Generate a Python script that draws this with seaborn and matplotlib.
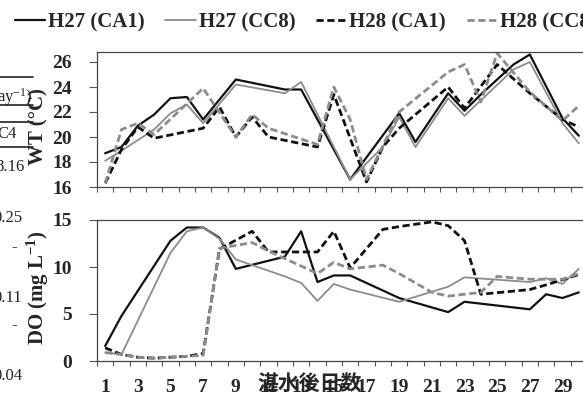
import pandas as pd
import seaborn as sns
import matplotlib.pyplot as plt
from matplotlib.lines import Line2D

# water temperature (WT, deg C) - day after flooding / value
wt_h27_ca1_days = [1, 2, 3, 4, 5, 6, 7, 9, 12, 13, 16, 19, 20, 22, 23, 24, 26, 27, 29, 30]
wt_h27_ca1 = [18.7, 19.2, 20.9, 21.8, 23.1, 23.2, 21.4, 24.6, 23.8, 23.8, 16.6, 21.9, 19.6, 23.5, 22.1, 23.4, 25.8, 26.6, 21.5, 20.1]
wt_h27_cc8_days = [1, 2, 4, 5, 6, 7, 9, 12, 13, 16, 18, 19, 20, 22, 23, 26, 27, 29, 30]
wt_h27_cc8 = [18.1, 18.9, 20.6, 21.9, 22.6, 21.1, 24.2, 23.5, 24.4, 16.6, 19.2, 21.6, 19.2, 23.1, 21.7, 25.4, 26.0, 21.1, 19.5]
wt_h28_ca1_days = [1, 2, 3, 4, 7, 8, 9, 10, 11, 14, 15, 17, 18, 19, 22, 23, 25, 27, 29, 30]
wt_h28_ca1 = [16.3, 19.0, 20.8, 19.9, 20.7, 22.4, 20.0, 21.6, 20.0, 19.2, 23.4, 16.4, 19.2, 20.7, 24.0, 22.3, 25.8, 23.5, 21.4, 20.8]
wt_h28_cc8_days = [1, 2, 3, 4, 7, 9, 10, 11, 14, 15, 16, 17, 19, 22, 23, 24, 25, 27, 29, 30]
wt_h28_cc8 = [16.3, 20.6, 21.1, 20.2, 23.9, 20.0, 21.8, 20.7, 19.4, 24.0, 21.4, 16.6, 22.0, 25.2, 25.8, 22.8, 26.7, 23.6, 21.3, 22.5]

# dissolved oxygen (DO, mg/L)
do_h27_ca1_days = [1, 2, 5, 6, 7, 8, 9, 12, 13, 14, 15, 16, 19, 21, 22, 23, 27, 28, 29, 30]
do_h27_ca1 = [1.6, 4.8, 12.8, 14.2, 14.2, 13.1, 9.8, 11.1, 13.8, 8.4, 9.1, 9.1, 6.7, 5.7, 5.2, 6.3, 5.5, 7.1, 6.7, 7.3]
do_h27_cc8_days = [1, 2, 5, 6, 7, 8, 9, 12, 13, 14, 15, 16, 19, 22, 23, 27, 28, 29, 30]
do_h27_cc8 = [0.9, 0.7, 11.5, 13.8, 14.2, 13.0, 10.8, 9.0, 8.3, 6.4, 8.2, 7.6, 6.3, 7.9, 8.9, 8.4, 8.8, 8.2, 9.8]
do_h28_ca1_days = [1, 2, 3, 4, 5, 6, 7, 8, 10, 11, 14, 15, 16, 18, 19, 21, 22, 23, 24, 27, 28, 30]
do_h28_ca1 = [1.4, 0.7, 0.4, 0.3, 0.4, 0.5, 0.8, 11.9, 13.8, 11.6, 11.6, 13.8, 9.9, 14.0, 14.3, 14.8, 14.4, 12.8, 7.1, 7.6, 8.1, 9.2]
do_h28_cc8_days = [1, 2, 3, 4, 5, 6, 7, 8, 10, 11, 14, 15, 16, 18, 19, 21, 22, 24, 25, 27, 29, 30]
do_h28_cc8 = [0.9, 0.7, 0.4, 0.3, 0.4, 0.5, 0.6, 12.0, 12.6, 11.7, 9.3, 10.5, 9.8, 10.2, 9.3, 7.3, 6.9, 7.3, 9.0, 8.7, 8.7, 9.3]

labels = ['H27 (CA1)', 'H27 (CC8)', 'H28 (CA1)', 'H28 (CC8)']
tick_days = list(range(1, 30, 2))

sns.set_style('ticks')
plt.rcParams['font.family'] = ['Liberation Serif', 'DejaVu Serif']
plt.rcParams['font.weight'] = 'bold'
plt.rcParams['mathtext.fontset'] = 'custom'
plt.rcParams['mathtext.rm'] = 'Liberation Serif:bold'
plt.rcParams['mathtext.default'] = 'rm'

styles = [
    dict(color='#111111', lw=1.6, ls='-'),
    dict(color='#8c8c8c', lw=1.3, ls='-'),
    dict(color='#111111', lw=2.0, ls=(0, (2.6, 1.3))),
    dict(color='#8c8c8c', lw=2.0, ls=(0, (2.6, 1.3))),
]

fig = plt.figure(figsize=(5.83, 3.97), dpi=100)
W, H = 583, 397
ax1 = fig.add_axes([97 / W, 1 - 187 / H, 490 / W, 135 / H])
ax2 = fig.add_axes([97 / W, 1 - 361 / H, 490 / W, 141 / H])

wt = [(wt_h27_ca1_days, wt_h27_ca1), (wt_h27_cc8_days, wt_h27_cc8),
      (wt_h28_ca1_days, wt_h28_ca1), (wt_h28_cc8_days, wt_h28_cc8)]
do = [(do_h27_ca1_days, do_h27_ca1), (do_h27_cc8_days, do_h27_cc8),
      (do_h28_ca1_days, do_h28_ca1), (do_h28_cc8_days, do_h28_cc8)]

for ax, series in [(ax1, wt), (ax2, do)]:
    for (d, v), lab, st in zip(series, labels, styles):
        df = pd.DataFrame({'day': d, 'val': v})
        sns.lineplot(data=df, x='day', y='val', ax=ax, color=st['color'],
                     linewidth=st['lw'], linestyle=st['ls'], label=lab, legend=False)
    ax.set_xlim(0.5, 30.37)
    ax.set_xticks([i + 0.5 for i in range(0, 31)])
    ax.set_xticklabels([])
    ax.tick_params(axis='x', which='major', direction='out', length=3.6, width=0.8, color='#555555')
    ax.tick_params(axis='y', direction='out', length=6, width=0.8, color='#555555', pad=12, labelsize=14)
    ax.set_xlabel('')
    ax.set_ylabel('')
    for s in ['left', 'top', 'bottom']:
        ax.spines[s].set_color('#444444')
        ax.spines[s].set_linewidth(0.9)
    ax.spines['right'].set_visible(False)

ax1.set_ylim(16, 26.8)
ax1.set_yticks([16, 18, 20, 22, 24, 26])
ax2.set_ylim(0, 15)
ax2.set_yticks([0, 5, 10, 15])
ax2.set_xticks(tick_days, minor=True)
ax2.set_xticklabels([str(d) for d in tick_days], minor=True, fontsize=14, fontweight='bold')
ax2.tick_params(axis='x', which='minor', length=0, pad=13)
for ax in (ax1, ax2):
    ax.set_yticklabels([str(int(t)) for t in ax.get_yticks()], fontsize=14, fontweight='bold')

fig.text(38 / W, 1 - 127 / H, 'WT (°C)', rotation=90, ha='center', va='center',
         fontsize=15, fontweight='bold')
fig.text(38 / W, 1 - 288 / H, 'DO (mg L$^{-1}$)', rotation=90, ha='center', va='center',
         fontsize=15, fontweight='bold')
fig.text(310 / W, 1 - 383 / H, '湛水後日数', ha='center', va='center', fontsize=15,
         fontweight='bold', family=['Noto Sans CJK JP', 'DejaVu Sans'])

handles = [Line2D([], [], **{'color': s['color'], 'lw': s['lw'], 'ls': s['ls']}) for s in styles]
fig.legend(handles, labels, loc='upper left', bbox_to_anchor=(0.0, 1.005), ncol=4,
           frameon=False, prop={'family': 'Liberation Serif', 'weight': 'bold', 'size': 15},
           handlelength=1.45, handletextpad=0.15, columnspacing=1.0, borderaxespad=0.3)

# fragments of the neighbouring table visible at the left edge
frag = dict(fontsize=12, fontweight='normal', ha='left', va='center', color='#222222')
fig.text(-0.005, 1 - 97 / H, 'ay$^{\\mathregular{-1}}$)', **frag)
fig.text(-0.005, 1 - 134 / H, 'C4', **frag)
fig.text(-0.008, 1 - 167 / H, '8.16', **frag)
fig.text(-0.012, 1 - 218 / H, '0.25', **frag)
fig.text(0.02, 1 - 247 / H, '-', **frag)
fig.text(-0.012, 1 - 298 / H, '0.11', **frag)
fig.text(0.02, 1 - 325 / H, '-', **frag)
fig.text(-0.012, 1 - 376 / H, '0.04', **frag)
for y in [77, 105, 122, 147]:
    fig.add_artist(Line2D([0, 33 / W], [1 - y / H, 1 - y / H], color='#222222', lw=1.2))

fig.savefig('out.png', dpi=100)
